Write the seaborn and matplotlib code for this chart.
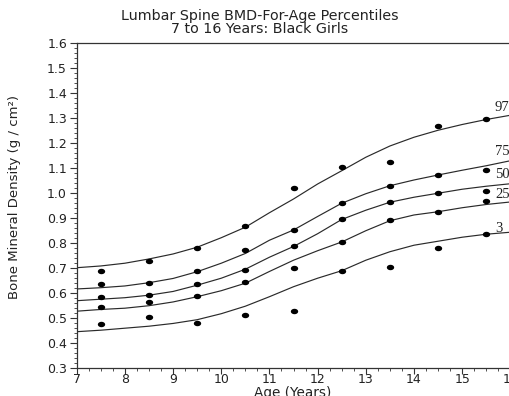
import matplotlib
matplotlib.use("Agg")
import matplotlib.pyplot as plt
import numpy as np
import pandas as pd
import seaborn as sns
from matplotlib.ticker import MultipleLocator, FormatStrFormatter

# percentile curves, read every half year
CURVE_AGES = [7, 7.5, 8, 8.5, 9, 9.5, 10, 10.5, 11, 11.5, 12, 12.5, 13, 13.5, 14, 14.5, 15, 15.5, 16]
P97 = [0.700, 0.707, 0.718, 0.735, 0.755, 0.782, 0.820, 0.862, 0.920, 0.975, 1.035, 1.088, 1.142, 1.187, 1.222, 1.250, 1.273, 1.293, 1.310]
P75 = [0.615, 0.620, 0.627, 0.640, 0.657, 0.684, 0.718, 0.757, 0.810, 0.851, 0.905, 0.958, 0.996, 1.028, 1.051, 1.071, 1.090, 1.108, 1.128]
P50 = [0.568, 0.574, 0.580, 0.590, 0.605, 0.630, 0.658, 0.694, 0.742, 0.785, 0.836, 0.893, 0.930, 0.962, 0.982, 0.998, 1.014, 1.026, 1.036]
P25 = [0.526, 0.533, 0.538, 0.548, 0.563, 0.584, 0.608, 0.638, 0.685, 0.730, 0.768, 0.803, 0.848, 0.888, 0.911, 0.924, 0.940, 0.953, 0.963]
P3 = [0.444, 0.450, 0.458, 0.466, 0.477, 0.492, 0.516, 0.546, 0.584, 0.624, 0.658, 0.688, 0.730, 0.764, 0.790, 0.806, 0.822, 0.834, 0.842]
PERCENTILES = ["97", "75", "50", "25", "3"]
LABEL_Y = [1.340, 1.164, 1.071, 0.991, 0.858]

# observed points per age group
POINT_AGES = [7.5, 8.5, 9.5, 10.5, 11.5, 12.5, 13.5, 14.5, 15.5]
POINTS = [
    [0.687, 0.635, 0.584, 0.543, 0.476],
    [0.726, 0.638, 0.592, 0.562, 0.504],
    [0.780, 0.687, 0.635, 0.586, 0.480],
    [0.867, 0.771, 0.692, 0.644, 0.510],
    [1.019, 0.851, 0.785, 0.699, 0.526],
    [1.102, 0.959, 0.896, 0.803, 0.688],
    [1.124, 1.028, 0.964, 0.892, 0.704],
    [1.268, 1.071, 0.998, 0.924, 0.778],
    [1.295, 1.092, 1.008, 0.967, 0.834],
]

sns.set_theme(style="ticks")
plt.rcParams["font.family"] = ["DejaVu Sans"]

curves = pd.DataFrame(
    [
        {"age": a, "bmd": v, "pct": p}
        for p, series in zip(PERCENTILES, [P97, P75, P50, P25, P3])
        for a, v in zip(CURVE_AGES, series)
    ]
)
points = pd.DataFrame(
    [{"age": a, "bmd": v} for a, row in zip(POINT_AGES, POINTS) for v in row]
)

fig = plt.figure(figsize=(5.09, 3.96), dpi=100)
ax = fig.add_axes([0.1507, 0.0715, 0.852, 0.8205])

sns.lineplot(
    data=curves, x="age", y="bmd", units="pct", estimator=None,
    color="#2a2a2a", linewidth=0.85, ax=ax, legend=False,
)
t = np.linspace(0, 2 * np.pi, 30)
ellipse = np.column_stack([1.35 * np.cos(t), np.sin(t)])
sns.scatterplot(
    data=points, x="age", y="bmd", marker=ellipse, s=28,
    color="black", edgecolor="black", linewidth=0, ax=ax, zorder=3,
)

for name, y in zip(PERCENTILES, LABEL_Y):
    ax.text(15.68, y, name, family="Liberation Serif", fontsize=10.5,
            color="#222222", ha="left", va="center", clip_on=False)

ax.set_xlim(7, 16)
ax.set_ylim(0.3, 1.6)
ax.xaxis.set_major_locator(MultipleLocator(1))
ax.xaxis.set_minor_locator(MultipleLocator(0.25))
ax.yaxis.set_major_locator(MultipleLocator(0.1))
ax.yaxis.set_minor_locator(MultipleLocator(0.02))
ax.yaxis.set_major_formatter(FormatStrFormatter("%.1f"))
ax.tick_params(which="major", length=5, width=0.8, labelsize=9, color="#333333",
               labelcolor="#222222")
ax.tick_params(axis="x", which="major", length=4, pad=0)
ax.tick_params(axis="y", which="major", pad=2)
ax.tick_params(which="minor", length=2.5, width=0.6, color="#333333")
ax.set_xlabel("")
ax.set_ylabel("")
for side in ["left", "bottom", "top", "right"]:
    ax.spines[side].set_visible(True)
    ax.spines[side].set_color("#333333")
    ax.spines[side].set_linewidth(0.9)

fig.text(0.51, 0.960, "Lumbar Spine BMD-For-Age Percentiles", ha="center", va="center",
         fontsize=10.3, color="#222222")
fig.text(0.51, 0.927, "7 to 16 Years: Black Girls", ha="center", va="center",
         fontsize=10.3, color="#222222")
fig.text(0.029, 0.502, "Bone Mineral Density (g / cm\u00b2)", rotation=90,
         ha="center", va="center", fontsize=9.5, color="#222222")
fig.text(0.575, 0.008, "Age (Years)", ha="center", va="center", fontsize=9.8,
         color="#222222")

fig.savefig("out.png", dpi=100)
